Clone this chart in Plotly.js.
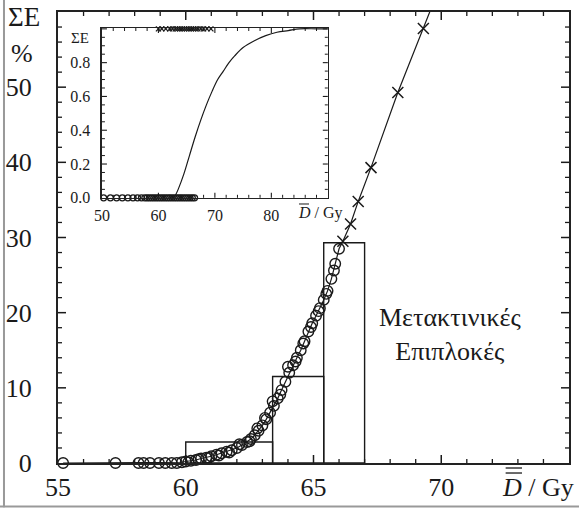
<!DOCTYPE html>
<html><head><meta charset="utf-8">
<script src="https://cdn.plot.ly/plotly-3.0.1.min.js"></script>
<style>body{margin:0;background:#fff}</style>
</head><body><div id="chart" style="width:579px;height:510px"></div>
<script>
// ---- main panel data ----
const binEdges = [60.0, 63.4, 65.4, 67.0];
const binHeights = [2.8, 11.5, 29.3];

const circX = [55.2,57.25,58.15,58.35,58.6,58.95,59.2,59.45,59.65,59.85,
  60.0,60.2,60.4,60.6,60.8,61.0,61.2,61.4,61.6,61.8,62.0,62.2,62.4,
  62.55,62.7,62.85,63.0,63.15,63.3,63.45,63.6,63.75,63.9,64.05,64.2,64.35,64.5,
  64.65,64.8,64.95,65.1,65.25,65.4,65.55,65.7,65.85,66.0];
const circY = [0,0,0,0,0,0,0,0,0,0.1,
  0.2,0.3,0.4,0.6,0.7,0.9,1.1,1.3,1.5,1.7,2.0,2.4,2.8,
  3.2,3.7,4.3,5.0,5.8,6.7,7.6,8.6,9.7,10.8,12.0,13.0,14.0,15.0,
  16.2,17.5,18.6,19.6,20.6,21.7,22.9,24.5,26.5,28.5];
const circ2X = [60.1,60.5,60.9,61.3,61.7,62.1,62.5,62.8,63.1,63.4,63.7,64.0,64.3,64.6,64.9,65.2,65.5,65.8];
const circ2Y = [0.1,0.5,0.7,1.0,1.4,2.5,2.9,4.6,6.0,8.2,9.1,12.8,13.5,15.9,18.1,20.2,22.5,25.6];

const crossX = [66.15,66.45,66.75,67.25,68.3,69.3];
const crossY = [29.5,31.8,34.8,39.3,49.3,57.8];
const tailX = [69.7];
const tailY = [61.3];

const xTickVals = [55,60,65,70];
const yTickVals = [0,10,20,30,40,50];

// ---- inset data ----
const insetCurveX = [62.8,63.5,64.5,65.5,66.5,67.5,68.5,69.5,70.5,71.5,72.5,73.5,75,77,79,81,83,85,88,90];
const insetCurveY = [0,0.05,0.14,0.25,0.36,0.46,0.55,0.63,0.70,0.75,0.80,0.84,0.89,0.93,0.96,0.98,0.99,1.0,1.0,1.0];
const insetZeroX = [50.3,51.5,52.6,53.6,54.6,55.5,56.3,57.0,57.6,58.0,58.4,58.8,59.2,59.6,60.0,60.4,60.8,61.2,61.6,62.0,62.4,62.8,63.2,63.6,64.0,64.4,64.8,65.2,65.6,66.0,66.4];
const insetOneX = [60.0,60.6,61.3,62.0,62.5,63.0,63.4,63.8,64.2,64.6,65.0,65.4,65.8,66.2,66.6,67.0,67.5,68.0,68.6,69.3];
const insetXTicks = [50,60,70,80];
const insetYTicks = [0,0.2,0.4,0.6,0.8];

const serif = 'Times New Roman';
const INK = '#1a1a1a';

const X1 = [55,75], Y1 = [0,60], X2 = [50,90], Y2 = [0,1.005];
const inX = [0.086, 0.528], inY = [0.588, 0.9645];
const PW = 511, PH = 451;

const centers = binHeights.map((h,i)=>(binEdges[i]+binEdges[i+1])/2);
const widths = binHeights.map((h,i)=>binEdges[i+1]-binEdges[i]);

const range = (a,b,s)=>{const r=[]; for(let v=a; v<=b+1e-9; v+=s) r.push(+v.toFixed(4)); return r;};

// ---- tick marks: paper-space segments placed from the tick values and each panel's axis range ----
const shapes = [];
function panelTicks(xr, yr, dom, xVals, yVals, lenPx, w){
  const px = v => dom.x[0] + (v-xr[0])/(xr[1]-xr[0])*(dom.x[1]-dom.x[0]);
  const py = v => dom.y[0] + (v-yr[0])/(yr[1]-yr[0])*(dom.y[1]-dom.y[0]);
  const lx = lenPx/PW, ly = lenPx/PH;
  const seg = (x0,y0,x1,y1) => shapes.push({type:'line', xref:'paper', yref:'paper', x0:x0, y0:y0, x1:x1, y1:y1,
                                           line:{color:INK, width:w}});
  xVals.forEach(v=>{ seg(px(v), dom.y[0], px(v), dom.y[0]+ly); seg(px(v), dom.y[1], px(v), dom.y[1]-ly); });
  yVals.forEach(v=>{ seg(dom.x[0], py(v), dom.x[0]+lx, py(v)); seg(dom.x[1], py(v), dom.x[1]-lx, py(v)); });
}
const mainDom = {x:[0,1], y:[0,1]}, insetDom = {x:inX, y:inY};
panelTicks(X1, Y1, mainDom, xTickVals.filter(v=>v>X1[0]), yTickVals.filter(v=>v>Y1[0]), 8, 1.5);
panelTicks(X1, Y1, mainDom, range(56,74,1).filter(v=>v%5!==0), range(2,58,2).filter(v=>v%10!==0), 4, 1.3);
panelTicks(X2, Y2, insetDom, insetXTicks.filter(v=>v>X2[0]), insetYTicks.filter(v=>v>0).concat([1.0]), 5, 1.1);
panelTicks(X2, Y2, insetDom, range(52,88,2).filter(v=>v%10!==0),
           range(0.05,0.95,0.05).filter(v=>Math.abs(v*5-Math.round(v*5))>1e-6), 3, 1);

shapes.push(
  {type:'line', xref:'paper', yref:'paper', x0:-0.1057, x1:-0.1057, y0:-0.098, y1:1.03, line:{color:'#999', width:2}},
  {type:'line', xref:'paper', yref:'paper', x0:-0.12, x1:1.02, y0:-0.0965, y1:-0.0965, line:{color:'#999', width:2}},
  // bars over the axis symbols
  {type:'line', xref:'paper', yref:'paper', x0:0.876, x1:0.908, y0:-0.0111, y1:-0.0111, line:{color:INK, width:1.3}},
  {type:'line', xref:'paper', yref:'paper', x0:0.876, x1:0.908, y0:-0.0222, y1:-0.0222, line:{color:INK, width:1.3}},
  {type:'line', xref:'paper', yref:'paper', x0:0.4716, x1:0.4912, y0:0.5743, y1:0.5743, line:{color:INK, width:1}}
);

const traces = [
  {type:'bar', x:centers, y:binHeights, width:widths, xaxis:'x', yaxis:'y',
   marker:{color:'rgba(255,255,255,0)', line:{color:INK, width:1.4}}, hoverinfo:'skip'},
  {type:'scatter', mode:'lines', x:circX.concat(crossX, tailX), y:circY.concat(crossY, tailY),
   line:{color:INK, width:1.2}, xaxis:'x', yaxis:'y'},
  {type:'scatter', mode:'markers', x:circX, y:circY, xaxis:'x', yaxis:'y', cliponaxis:false,
   marker:{symbol:'circle-open', size:10.5, color:INK, line:{width:1.4}}},
  {type:'scatter', mode:'markers', x:circ2X, y:circ2Y, xaxis:'x', yaxis:'y',
   marker:{symbol:'circle-open', size:10.5, color:INK, line:{width:1.4}}},
  {type:'scatter', mode:'markers', x:crossX, y:crossY, xaxis:'x', yaxis:'y',
   marker:{symbol:'x-thin-open', size:11, color:INK, line:{width:1.5}}},
  // inset
  {type:'scatter', mode:'lines', x:insetCurveX, y:insetCurveY, xaxis:'x2', yaxis:'y2',
   line:{color:INK, width:1.2, shape:'spline'}},
  {type:'scatter', mode:'markers', x:insetZeroX, y:insetZeroX.map(()=>0), xaxis:'x2', yaxis:'y2',
   marker:{symbol:'circle-open', size:6, color:INK, line:{width:1.3}}, cliponaxis:false},
  {type:'scatter', mode:'markers', x:insetOneX, y:insetOneX.map(()=>1), xaxis:'x2', yaxis:'y2',
   marker:{symbol:'x-thin-open', size:5, color:INK, line:{width:1.3}}, cliponaxis:false}
];

const axBase = {showgrid:false, zeroline:false, showline:true, linecolor:'#222', linewidth:2,
  mirror:true, ticks:'', tickfont:{family:serif, size:26, color:INK}};

const layout = {
  width:579, height:510, showlegend:false,
  margin:{l:58, r:10, t:12, b:47},
  paper_bgcolor:'#fff', plot_bgcolor:'#fff',
  bargap:0,
  font:{family:serif},
  xaxis:Object.assign({}, axBase, {range:X1, tickvals:xTickVals}),
  yaxis:Object.assign({}, axBase, {range:Y1, tickvals:yTickVals, ticklabelstandoff:19}),
  xaxis2:Object.assign({}, axBase, {domain:inX, anchor:'y2', range:X2,
     tickvals:insetXTicks, linewidth:1.5,
     tickfont:{family:serif, size:16, color:INK}, ticklabelstandoff:2}),
  yaxis2:Object.assign({}, axBase, {domain:inY, anchor:'x2', range:Y2,
     tickvals:insetYTicks, ticktext:['0.0','0.2','0.4','0.6','0.8'], linewidth:1.5,
     tickfont:{family:serif, size:16, color:INK}, ticklabelstandoff:7}),
  shapes:shapes,
  annotations:[
    {xref:'paper', yref:'paper', x:-0.0665, y:0.989, text:'ΣE', showarrow:false, xanchor:'center', yanchor:'middle',
     font:{family:serif, size:27, color:INK}},
    {xref:'paper', yref:'paper', x:-0.0705, y:0.907, text:'%', showarrow:false, xanchor:'center', yanchor:'middle',
     font:{family:serif, size:26, color:INK}},
    {xref:'paper', yref:'paper', x:0.865, y:-0.0554, text:'<i>D</i> / Gy', showarrow:false, xanchor:'left', yanchor:'middle',
     font:{family:serif, size:26, color:INK}},
    {xref:'paper', yref:'paper', x:0.767, y:0.286, text:'Μετακτινικές<br>Επιπλοκές', showarrow:false, xanchor:'center', yanchor:'middle',
     font:{family:serif, size:26, color:INK}},
    {xref:'paper', yref:'paper', x:0.043, y:0.942, text:'ΣE', showarrow:false, xanchor:'center', yanchor:'middle',
     font:{family:serif, size:15, color:INK}},
    {xref:'paper', yref:'paper', x:0.466, y:0.554, text:'<i>D</i> / Gy', showarrow:false, xanchor:'left', yanchor:'middle',
     font:{family:serif, size:16, color:INK}}
  ]
};

Plotly.newPlot('chart', traces, layout, {staticPlot:true, displayModeBar:false});
</script></body></html>
